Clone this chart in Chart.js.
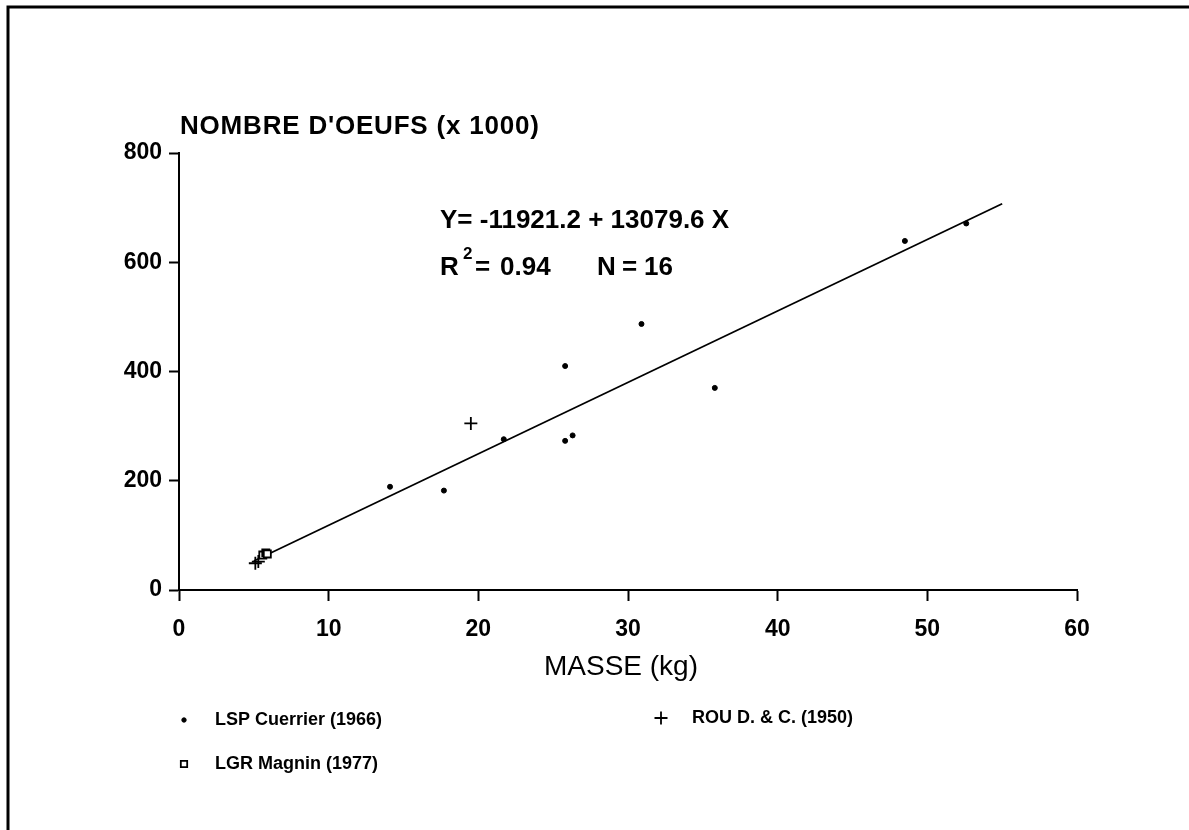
<!DOCTYPE html>
<html>
<head>
<meta charset="utf-8">
<script src="https://cdn.jsdelivr.net/npm/chart.js@4"></script>
<style>
html,body{margin:0;padding:0;background:#fff;}
canvas{display:block;}
</style>
</head>
<body>
<canvas id="c" width="1189" height="830"></canvas>
<script>
// ---- data ----
const xTicks = [0, 10, 20, 30, 40, 50, 60];
const yTicks = [0, 200, 400, 600, 800];

const lspLabel = "LSP Cuerrier (1966)";
const lspMasse = [14.1, 17.7, 21.7, 25.8, 25.8, 26.3, 30.9, 35.8, 48.5, 52.6];
const lspOeufs = [189, 182, 276, 410, 273, 283, 487, 370, 639, 671];

const rouLabel = "ROU D. & C. (1950)";
const rouMasse = [5.1, 5.3, 19.5];
const rouOeufs = [49, 52, 305];

const lgrLabel = "LGR Magnin (1977)";
const lgrMasse = [5.6, 5.8, 5.9];
const lgrOeufs = [64, 68, 66];

const regMasse = [5, 55];
const regOeufs = [53, 707];

const yTitle = "NOMBRE D'OEUFS (x 1000)";
const xTitle = "MASSE (kg)";
const eqText = "Y= -11921.2 + 13079.6 X";
const r2Value = "0.94";
const nValue = "16";

const pts = (xs, ys) => xs.map((x, i) => ({x: x, y: ys[i]}));

const FONT = "'Liberation Sans', Arial, sans-serif";

const overlay = {
  id: 'overlay',
  afterDraw(chart) {
    const ctx = chart.ctx;
    ctx.save();
    ctx.fillStyle = '#000';
    ctx.strokeStyle = '#000';
    // frame (top + left)
    ctx.lineWidth = 3;
    ctx.beginPath();
    ctx.moveTo(8, 830); ctx.lineTo(8, 7); ctx.lineTo(1189, 7);
    ctx.stroke();

    ctx.textBaseline = 'middle';
    ctx.textAlign = 'left';

    // y title
    ctx.font = "bold 26px " + FONT;
    ctx.letterSpacing = "0.8px";
    ctx.fillText(yTitle, 180, 127);
    ctx.letterSpacing = "0px";

    // equation
    ctx.font = "bold 26px " + FONT;
    ctx.fillText(eqText, 440, 221);
    ctx.fillText("R", 440, 268);
    ctx.font = "bold 17px " + FONT;
    ctx.fillText("2", 463, 254);
    ctx.font = "bold 26px " + FONT;
    ctx.fillText("=", 475, 268);
    ctx.fillText(r2Value, 500, 268);
    ctx.fillText("N", 597, 268);
    ctx.fillText("=", 622, 268);
    ctx.fillText(nValue, 644, 268);

    // x title
    ctx.textAlign = 'center';
    ctx.font = "28px " + FONT;
    ctx.fillText(xTitle, 621, 667);

    // legend, drawn from the datasets
    const ds = chart.data.datasets;
    const items = [
      {d: ds[0], mx: 184, my: 720, tx: 215, r: 2.2},
      {d: ds[1], mx: 661, my: 718, tx: 692, r: 6.5},
      {d: ds[2], mx: 184, my: 764, tx: 215, r: 4.5}
    ];
    ctx.textAlign = 'left';
    ctx.font = "bold 18px " + FONT;
    items.forEach(it => {
      const d = it.d;
      ctx.fillStyle = d.backgroundColor;
      ctx.strokeStyle = d.borderColor;
      ctx.lineWidth = d.borderWidth;
      Chart.helpers.drawPoint(ctx, {
        pointStyle: d.pointStyle, radius: it.r, borderWidth: d.borderWidth, rotation: 0
      }, it.mx, it.my);
      ctx.fillStyle = '#000';
      ctx.fillText(d.label, it.tx, it.my);
    });
    ctx.restore();
  }
};

Chart.defaults.font.family = FONT;
Chart.defaults.color = '#000';

new Chart(document.getElementById('c'), {
  type: 'scatter',
  data: {
    datasets: [
      {label: lspLabel, data: pts(lspMasse, lspOeufs), pointStyle: 'circle', pointRadius: 2.5,
       backgroundColor: '#000', borderColor: '#000', borderWidth: 1},
      {label: rouLabel, data: pts(rouMasse, rouOeufs), pointStyle: 'cross', pointRadius: 6.5,
       backgroundColor: '#000', borderColor: '#000', borderWidth: 1.8},
      {label: lgrLabel, data: pts(lgrMasse, lgrOeufs), pointStyle: 'rect', pointRadius: 5,
       backgroundColor: '#fff', borderColor: '#000', borderWidth: 1.8},
      {label: 'regression', data: pts(regMasse, regOeufs), showLine: true, pointRadius: 0,
       borderColor: '#000', borderWidth: 1.8, fill: false}
    ]
  },
  options: {
    responsive: false,
    animation: false,
    devicePixelRatio: 1,
    layout: {padding: {left: 0, top: 153, right: 112, bottom: 0}},
    plugins: {legend: {display: false}, tooltip: {enabled: false}},
    scales: {
      x: {
        type: 'linear', min: 0, max: 60,
        afterBuildTicks: s => { s.ticks = xTicks.map(v => ({value: v})); },
        afterFit: s => { s.height = 240; },
        grid: {drawOnChartArea: false, drawTicks: true, tickLength: 11, tickWidth: 2, tickColor: '#000'},
        border: {display: true, color: '#000', width: 2},
        ticks: {font: {size: 23, weight: 'bold'}, color: '#000', padding: 15, maxRotation: 0}
      },
      y: {
        type: 'linear', min: 0, max: 800,
        afterBuildTicks: s => { s.ticks = yTicks.map(v => ({value: v})); },
        afterFit: s => { s.width = 179; },
        grid: {drawOnChartArea: false, drawTicks: true, tickLength: 10, tickWidth: 2, tickColor: '#000'},
        border: {display: true, color: '#000', width: 2},
        ticks: {font: {size: 23, weight: 'bold'}, color: '#000', padding: 7}
      }
    }
  },
  plugins: [overlay]
});
</script>
</body>
</html>
